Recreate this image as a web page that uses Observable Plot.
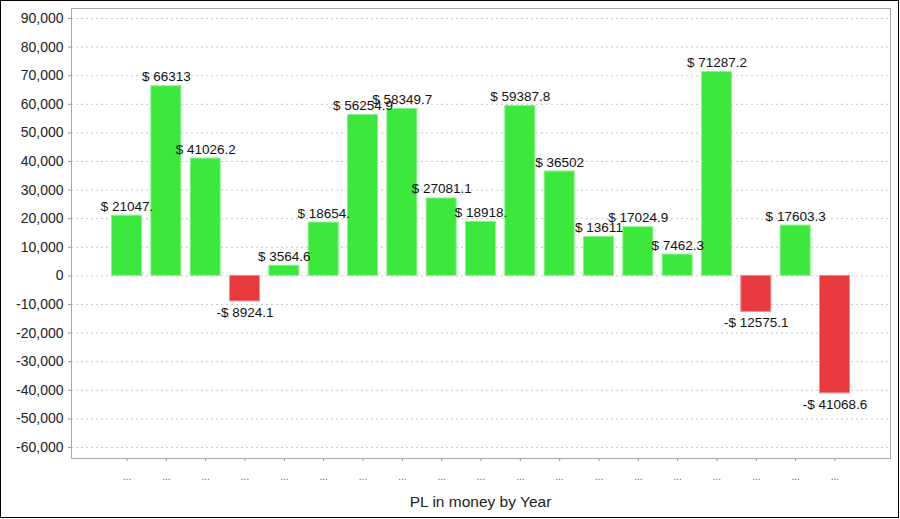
<!DOCTYPE html>
<html>
<head>
<meta charset="utf-8">
<script src="https://cdn.jsdelivr.net/npm/d3@7"></script>
<script src="https://cdn.jsdelivr.net/npm/@observablehq/plot@0.6"></script>
<style>
  html, body { margin: 0; padding: 0; background: #fff; }
  #wrap { position: relative; width: 900px; height: 519px; background: #fff; overflow: hidden; font-family: "Liberation Sans", Arial, sans-serif; }
  #chart { position: absolute; left: 0; top: 0; }
  #title { position: absolute; left: 71px; width: 819px; top: 493px; text-align: center; font-size: 15.5px; color: #222; line-height: 18px; }
  #border { position: absolute; left: 0; top: 0; width: 899px; height: 518px; box-sizing: border-box; border: 1px solid #000; pointer-events: none; }
</style>
</head>
<body>
<div id="wrap">
  <div id="chart"></div>
  <div id="title">PL in money by Year</div>
  <div id="border"></div>
</div>
<script>
const categories = ["c01","c02","c03","c04","c05","c06","c07","c08","c09","c10","c11","c12","c13","c14","c15","c16","c17","c18","c19"];
const xTickLabels = ["...","...","...","...","...","...","...","...","...","...","...","...","...","...","...","...","...","...","..."];
const values = [21047.5, 66313, 41026.2, -8924.1, 3564.6, 18654.5, 56254.9, 58349.7, 27081.1, 18918.5, 59387.8, 36502, 13611, 17024.9, 7462.3, 71287.2, -12575.1, 17603.3, -41068.6];
const valueLabels = ["$ 21047.", "$ 66313", "$ 41026.2", "-$ 8924.1", "$ 3564.6", "$ 18654.", "$ 56254.9", "$ 58349.7", "$ 27081.1", "$ 18918.", "$ 59387.8", "$ 36502", "$ 13611", "$ 17024.9", "$ 7462.3", "$ 71287.2", "-$ 12575.1", "$ 17603.3", "-$ 41068.6"];
const yTicks = [-60000, -50000, -40000, -30000, -20000, -10000, 0, 10000, 20000, 30000, 40000, 50000, 60000, 70000, 80000, 90000];

const data = categories.map((c, i) => ({cat: c, value: values[i], label: valueLabels[i]}));
const pos = data.filter(d => d.value >= 0);
const neg = data.filter(d => d.value < 0);
const yFmt = d => (d < 0 ? "-" : "") + d3.format(",")(Math.abs(d));

const chart = Plot.plot({
  width: 900,
  height: 492,
  marginLeft: 71,
  marginRight: 10,
  marginTop: 8,
  marginBottom: 34,
  style: { fontFamily: "'Liberation Sans', Arial, sans-serif", background: "transparent", overflow: "visible" },
  x: { domain: categories, paddingInner: 0.237, paddingOuter: 1.03, round: false, axis: null },
  y: { domain: [-63850, 93500], axis: null },
  marks: [
    Plot.gridY(yTicks, { stroke: "#c8c8c8", strokeOpacity: 1, strokeDasharray: "2,3" }),
    Plot.barY(data, {
      x: "cat", y: "value",
      fill: d => d.value < 0 ? "#e8393d" : "#3de83d",
      stroke: d => d.value < 0 ? "#f28c8e" : "#8ef08e",
      strokeWidth: 1
    }),
    Plot.frame({ stroke: "#a8a8a8" }),
    Plot.axisY(yTicks, {
      tickSize: 3, tickPadding: 5, tickFormat: yFmt, fontSize: 14,
      stroke: "#999", color: "#222", label: null
    }),
    Plot.axisX({
      tickSize: 3, tickPadding: 11, fontSize: 10,
      tickFormat: (d) => xTickLabels[categories.indexOf(d)],
      stroke: "#999", color: "#666", label: null
    }),
    Plot.text(pos, {
      x: "cat", y: "value", text: "label", lineAnchor: "bottom", dy: -5,
      fontSize: 13.5, fill: "#111"
    }),
    Plot.text(neg, {
      x: "cat", y: "value", text: "label", lineAnchor: "top", dy: 6,
      fontSize: 13.5, fill: "#111"
    })
  ]
});
document.getElementById("chart").appendChild(chart);
</script>
</body>
</html>
